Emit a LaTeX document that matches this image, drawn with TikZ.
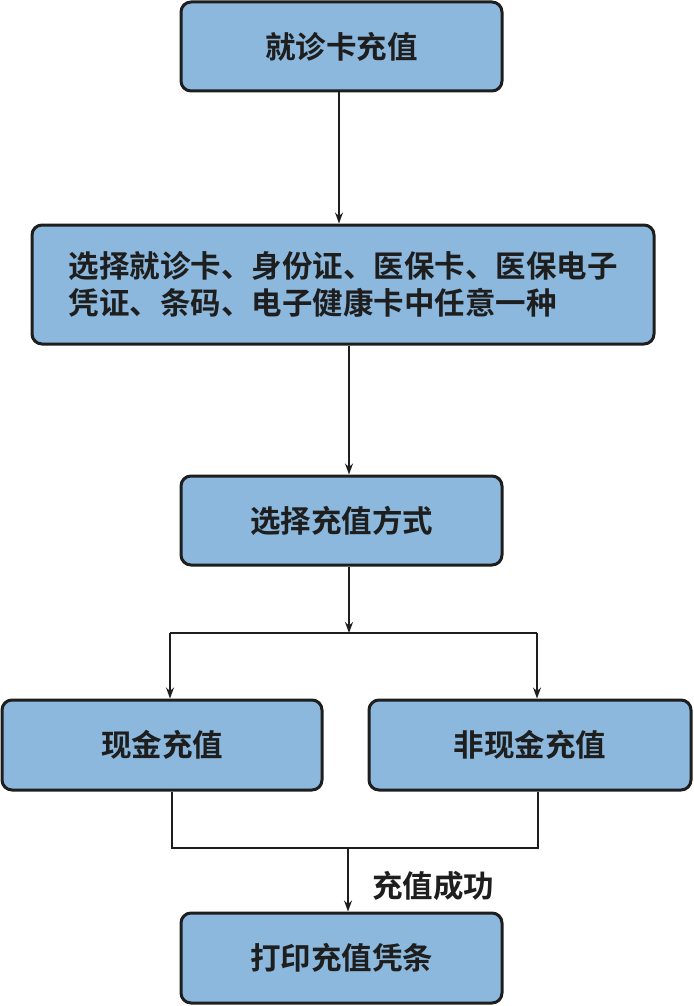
\documentclass[tikz,border=0pt]{standalone}
\usepackage{fontspec}
\setmainfont{Noto Sans CJK SC}[BoldFont={Noto Sans CJK SC Bold}]
\usetikzlibrary{arrows.meta,calc}
\definecolor{boxfill}{RGB}{139,184,220}
\definecolor{ink}{RGB}{30,30,30}
\tikzset{
  stepbox/.style={draw=ink, line width=3pt, rounded corners=10pt, fill=boxfill,
    inner sep=0pt, text=ink, font=\fontsize{30.5}{37}\selectfont\bfseries},
  conn/.style={draw=ink, line width=1.3pt},
  arr/.style={conn, -{Stealth[length=11pt,width=8pt]}},
}
\begin{document}
\begin{tikzpicture}[x=1pt,y=-1pt]
\useasboundingbox (0,0) rectangle (693,1006);
\node[stepbox, minimum width=321pt, minimum height=89pt] (b1) at (341.5,46.5) {就诊卡充值};
\node[stepbox, minimum width=622pt, minimum height=119pt, align=left] (b2) at (343,284.5)
  {选择就诊卡、身份证、医保卡、医保电子\\凭证、条码、电子健康卡中任意一种};
\node[stepbox, minimum width=321pt, minimum height=89pt] (b3) at (341.5,520.5) {选择充值方式};
\node[stepbox, minimum width=320pt, minimum height=90pt] (b4) at (162,745) {现金充值};
\node[stepbox, minimum width=322pt, minimum height=90pt] (b5) at (530,745) {非现金充值};
\node[stepbox, minimum width=321pt, minimum height=90pt] (b6) at (341.5,958) {打印充值凭条};
\coordinate (a1) at ($(b1.south)+(-2.5,0)$);
\coordinate (a2) at ($(b2.south)+(6,0)$);
\coordinate (a3) at ($(b3.south)+(7.5,0)$);
\coordinate (split) at (349,633);
\coordinate (splitL) at (170,633);
\coordinate (splitR) at (537,633);
\coordinate (mergeL) at (172,848);
\coordinate (mergeR) at (538,848);
\coordinate (merge) at (348,848);
\draw[arr] (a1) -- (a1 |- b2.north);
\draw[arr] (a2) -- (a2 |- b3.north);
\draw[arr] (a3) -- (split);
\draw[conn] (splitL) -- (splitR);
\draw[arr] (splitL) -- (splitL |- b4.north);
\draw[arr] (splitR) -- (splitR |- b5.north);
\draw[conn] (mergeL |- b4.south) -- (mergeL) -- (mergeR) -- (mergeR |- b5.south);
\draw[arr] (merge) -- (merge |- b6.north);
\node[text=ink, font=\fontsize{30.5}{37}\selectfont\bfseries, inner sep=0pt] (lbl) at (433,886) {充值成功};
\end{tikzpicture}
\end{document}
